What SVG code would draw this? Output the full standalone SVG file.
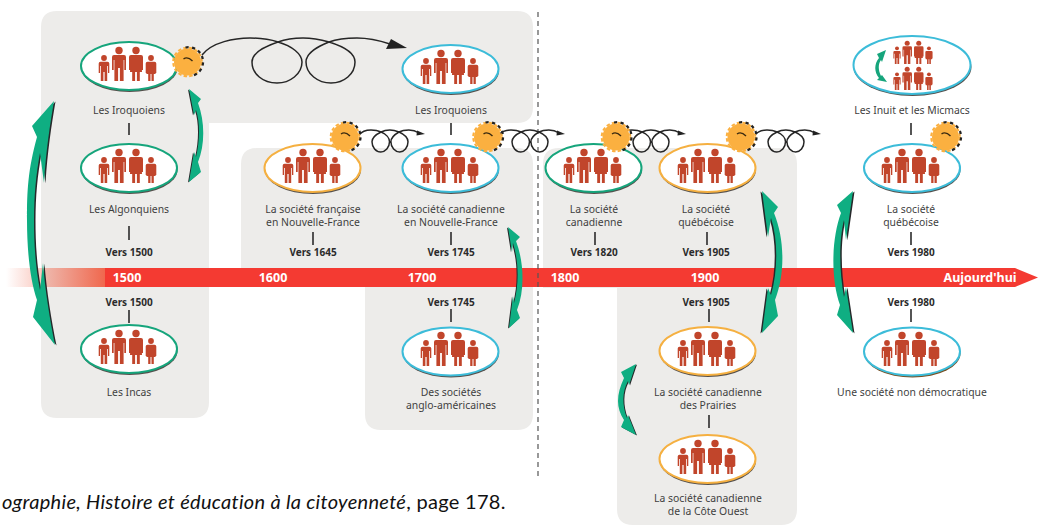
<svg xmlns="http://www.w3.org/2000/svg" width="1038" height="525" viewBox="0 0 1038 525">
<style>
text{font-family:"Noto Sans","Open Sans","Liberation Sans",sans-serif;font-size:10.400px;fill:#3f3f3f;text-anchor:middle}
.b{font-weight:700;fill:#2b2b2b;font-size:10px}
.y{font-weight:700;fill:#fff;font-size:12.500px}
.tick{stroke:#2b2b2b;stroke-width:1.600}
.bg{fill:#edecea}
.sh{fill:#55504c}
.ov{fill:#fff;stroke-width:2}
.g{stroke:#16a57c}.c{stroke:#3cbcd9}.o{stroke:#f5b041}
.p{fill:#c1452b}
.loop{fill:none;stroke:#262626;stroke-width:1.500}
.ar{fill:#0fae82}
.ars{fill:#26282a}
</style>
<defs>
<linearGradient id="fade" x1="0" x2="1" y1="0" y2="0">
<stop offset="0" stop-color="#f0664c" stop-opacity="0"/><stop offset="1" stop-color="#f0664c" stop-opacity="1"/>
</linearGradient>
<g id="man"><circle cx="0" cy="-30.500" r="3.700"/><path d="M-7-24Q-7-26-5-26H5Q7-26 7-24V-11H5.300V-21H4.600V0H.9V-13H-.9V0H-4.600V-21H-5.300V-11H-7Z"/></g>
<g id="woman"><circle cx="0" cy="-30.500" r="3.700"/><path d="M-7-24Q-7-26-5-26H5Q7-26 7-24V-11H5.300V-21L6-9H3.800V0H.9V-9H-.9V0H-3.800V-9H-6L-5.300-21V-11H-7Z"/></g>
<g id="boy"><circle cx="0" cy="-23" r="2.900"/><path d="M-5.300-17.500Q-5.300-19.300-3.500-19.300H3.500Q5.300-19.300 5.300-17.500V-8H4V-15H3.200V0H.6V-9H-.6V0H-3.200V-15H-4V-8H-5.300Z"/></g>
<g id="girl"><circle cx="0" cy="-23" r="2.900"/><path d="M-5.300-17.500Q-5.300-19.300-3.500-19.300H3.500Q5.300-19.300 5.300-17.500V-8H4V-15L4.600-7H2.800V0H.5V-7H-.5V0H-2.800V-7H-4.600L-4-15V-8H-5.300Z"/></g>
<g id="family" class="p"><use href="#boy" x="-25" y="15"/><use href="#man" x="-10" y="15"/><use href="#woman" x="7" y="15"/><use href="#girl" x="22" y="15"/></g>
<g id="gear"><circle r="13.500" fill="#fbb040"/><circle r="14.300" fill="none" stroke="#fbb040" stroke-width="2" stroke-dasharray="3.500 2.200"/><path d="M-2-14.500A14.500 14.500 0 0 1 4 14" fill="none" stroke="#222" stroke-width="2.200" stroke-dasharray="3.200 3.400"/><path d="M-4-3Q0-6 5-1" fill="none" stroke="#3a2a10" stroke-width="1.400"/></g>
<g id="sloop"><path class="loop" d="M14-2C17-6 21-7 26-7C30.500-7 34-6 36.100-5C41-3 44.500 1 44.500 4.800C44.500 10.600 40.300 15 35.800 15C30.900 15 27 10.600 27 4.800C27-.1 31.900-3 36.100-5C38.900-6.500 42-7 44.900-7C48-7 51.500-6 54-5C50.500-3 45.900-.1 45.900 4.800C45.900 10.600 50.100 15 54.700 15C59.200 15 63 10.600 63 4.800C63-.1 58.500-3 54-5C56.800-6.500 60.300-7 63.800-7C67.600-7 71-6 74-4"/><path d="M80-3L72-6.500L71.500-1.500Z" fill="#222"/></g>
</defs>

<g id="panels">
<path class="bg" d="M41 27Q41 11 57 11H517Q533 11 533 27V107Q533 123 517 123H209V402Q209 418 193 418H57Q41 418 41 402Z"/>
<path class="bg" d="M241 164Q241 148 257 148H517Q533 148 533 164V414Q533 430 517 430H381Q365 430 365 414V268H241Z"/>
<path class="bg" d="M543 164Q543 148 559 148H781Q797 148 797 164V509Q797 525 781 525H633Q617 525 617 509V288H543Z"/>
</g>

<g id="timeline">
<rect x="6" y="268" width="100" height="19" fill="url(#fade)"/>
<path d="M105 268H1015L1038 277.500L1015 287H105Z" fill="#f43a32"/>
<text class="y" x="127" y="282">1500</text>
<text class="y" x="273" y="282">1600</text>
<text class="y" x="422" y="282">1700</text>
<text class="y" x="565" y="282">1800</text>
<text class="y" x="705" y="282">1900</text>
<text class="y" x="980" y="282">Aujourd'hui</text>
</g>

<line id="divider" x1="538" y1="12" x2="538" y2="478" stroke="#555" stroke-width="1.200" stroke-dasharray="5 4"/>

<g id="connectors">
<path class="loop" d="M202 55C212 42 235 38 250 38C262 38 272 40 278 42C292 46 302 54 302 62C302 74 290 83 277 83C263 83 252 74 252 62C252 52 266 46 278 42C286 39 295 38 303 38C312 38 322 40 329 42C319 46 306 52 306 62C306 74 318 83 331 83C344 83 355 74 355 62C355 52 342 46 329 42C337 39 347 38 357 38C368 38 378 40 390 44"/>
<path d="M407 48L391 39L386 49Z" fill="#222"/>
<use href="#sloop" x="345" y="137"/>
<use href="#sloop" x="485" y="137"/>
<use href="#sloop" x="606" y="137"/>
<use href="#sloop" x="741" y="137"/>
<line class="tick" x1="129" y1="123" x2="129" y2="135"/>
<line class="tick" x1="129" y1="226" x2="129" y2="240"/>
<line class="tick" x1="129" y1="310" x2="129" y2="323"/>
<line class="tick" x1="451" y1="123" x2="451" y2="135"/>
<line class="tick" x1="313" y1="232" x2="313" y2="245"/>
<line class="tick" x1="451" y1="232" x2="451" y2="245"/>
<line class="tick" x1="451" y1="309" x2="451" y2="322"/>
<line class="tick" x1="595" y1="232" x2="595" y2="245"/>
<line class="tick" x1="707" y1="232" x2="707" y2="245"/>
<line class="tick" x1="709" y1="309" x2="709" y2="322"/>
<line class="tick" x1="709" y1="415" x2="709" y2="428"/>
<line class="tick" x1="911" y1="123" x2="911" y2="135"/>
<line class="tick" x1="911" y1="232" x2="911" y2="245"/>
<line class="tick" x1="911" y1="309" x2="911" y2="322"/>
</g>

<g id="arrows">
<g id="a1"><path class="ars" transform="translate(1.500,.5)" d="M54 101L32 126L37 137C28 170 27 190 27 220C27 250 30 280 37 300L33 317L55 345C50 320 45 290 43 263L40 290C35 265 34 240 34 220C34 195 36 175 40 153L44 183C46 150 50 125 54 101Z"/><path class="ar" d="M54 101L32 126L37 137C28 170 27 190 27 220C27 250 30 280 37 300L33 317L55 345C50 320 45 290 43 263L40 290C35 265 34 240 34 220C34 195 36 175 40 153L44 183C46 150 50 125 54 101Z"/></g>
<g id="a2"><path class="ars" transform="translate(-1,.5)" d="M189 89L201 99L198 103C205 122 205 145 198 162L201 172L189 182L194 152L196 157C200 140 200 122 196 110L194 115Z"/><path class="ar" d="M189 89L201 99L198 103C205 122 205 145 198 162L201 172L189 182L194 152L196 157C200 140 200 122 196 110L194 115Z"/></g>
<g id="a3"><path class="ars" transform="translate(-1,.5)" d="M508 227L520 237L516 241C524 262 525 290 517 310L520 318L509 328L513 296L514 303C519 285 519 262 513 243L512 252Z"/><path class="ar" d="M508 227L520 237L516 241C524 262 525 290 517 310L520 318L509 328L513 296L514 303C519 285 519 262 513 243L512 252Z"/></g>
<g id="a4"><path class="ars" transform="translate(-1.500,.5)" d="M762 191L778 207L774 213C785 240 785 275 775 300L778 316L762 333L768 288L771 295C778 270 778 240 771 218L768 237Z"/><path class="ar" d="M762 191L778 207L774 213C785 240 785 275 775 300L778 316L762 333L768 288L771 295C778 270 778 240 771 218L768 237Z"/></g>
<g id="a5"><path class="ars" transform="translate(1.500,.5)" d="M853 191L837 205L841 213C831 240 831 280 840 305L837 315L853 333L846 287L844 297C839 270 839 240 844 220L846 240Z"/><path class="ar" d="M853 191L837 205L841 213C831 240 831 280 840 305L837 315L853 333L846 287L844 297C839 270 839 240 844 220L846 240Z"/></g>
<g id="a6"><path class="ars" transform="translate(1,.4)" d="M636 364L621 372L624 378C616 395 616 408 624 420L621 427L636 435L628 415L627 418C622 405 622 392 628 381L629 385Z"/><path class="ar" d="M636 364L621 372L624 378C616 395 616 408 624 420L621 427L636 435L628 415L627 418C622 405 622 392 628 381L629 385Z"/></g>
</g>

<g id="n-iroquoiens-1"><ellipse class="sh" cx="129.500" cy="68" rx="48" ry="24"/><ellipse class="ov g" cx="129" cy="66" rx="48" ry="24"/><use href="#family" x="129" y="66"/><text x="129" y="114">Les Iroquoiens</text></g>
<g id="n-algonquiens"><ellipse class="sh" cx="129.500" cy="170" rx="48" ry="24"/><ellipse class="ov g" cx="129" cy="168" rx="48" ry="24"/><use href="#family" x="129" y="168"/><text x="129" y="213">Les Algonquiens</text><text class="b" x="129" y="256">Vers 1500</text></g>
<g id="n-incas"><text class="b" x="129" y="306">Vers 1500</text><ellipse class="sh" cx="129.500" cy="351" rx="48" ry="24"/><ellipse class="ov g" cx="129" cy="349" rx="48" ry="24"/><use href="#family" x="129" y="349"/><text x="129" y="396">Les Incas</text></g>
<g id="n-iroquoiens-2"><ellipse class="sh" cx="451" cy="71" rx="48" ry="24"/><ellipse class="ov c" cx="450.500" cy="69" rx="48" ry="24"/><use href="#family" x="451" y="69"/><text x="451" y="114">Les Iroquoiens</text></g>
<g id="n-francaise"><ellipse class="sh" cx="313" cy="170" rx="48" ry="24"/><ellipse class="ov o" cx="312.500" cy="168" rx="48" ry="24"/><use href="#family" x="313" y="168"/><text x="313" y="213">La société française</text><text x="313" y="226">en Nouvelle-France</text><text class="b" x="313" y="256">Vers 1645</text></g>
<g id="n-canadienne-nf"><ellipse class="sh" cx="451" cy="170" rx="48" ry="24"/><ellipse class="ov c" cx="450.500" cy="168" rx="48" ry="24"/><use href="#family" x="451" y="168"/><text x="451" y="213">La société canadienne</text><text x="451" y="226">en Nouvelle-France</text><text class="b" x="451" y="256">Vers 1745</text></g>
<g id="n-anglo"><text class="b" x="451" y="306">Vers 1745</text><ellipse class="sh" cx="451" cy="353.500" rx="48" ry="24"/><ellipse class="ov c" cx="450.500" cy="351.500" rx="48" ry="24"/><use href="#family" x="451" y="351"/><text x="451" y="396">Des sociétés</text><text x="451" y="409">anglo-américaines</text></g>
<g id="n-canadienne"><ellipse class="sh" cx="594" cy="170" rx="48" ry="24"/><ellipse class="ov g" cx="593.500" cy="168" rx="48" ry="24"/><use href="#family" x="594" y="168"/><text x="594" y="213">La société</text><text x="594" y="226">canadienne</text><text class="b" x="594" y="256">Vers 1820</text></g>
<g id="n-quebecoise"><ellipse class="sh" cx="708" cy="170" rx="48" ry="24"/><ellipse class="ov o" cx="707.500" cy="168" rx="48" ry="24"/><use href="#family" x="708" y="168"/><text x="706" y="213">La société</text><text x="706" y="226">québécoise</text><text class="b" x="706" y="256">Vers 1905</text></g>
<g id="n-prairies"><text class="b" x="706" y="306">Vers 1905</text><ellipse class="sh" cx="708" cy="353" rx="48" ry="24"/><ellipse class="ov o" cx="707.500" cy="351" rx="48" ry="24"/><use href="#family" x="708" y="351"/><text x="708" y="396">La société canadienne</text><text x="708" y="409">des Prairies</text></g>
<g id="n-cote-ouest"><ellipse class="sh" cx="708" cy="461" rx="48" ry="24"/><ellipse class="ov o" cx="707.500" cy="459" rx="48" ry="24"/><use href="#family" x="708" y="459"/><text x="708" y="502">La société canadienne</text><text x="708" y="515">de la Côte Ouest</text></g>
<g id="n-inuit"><ellipse class="sh" cx="912.500" cy="67" rx="59" ry="29"/><ellipse class="ov c" cx="912" cy="65" rx="58.500" ry="29"/><use href="#family" transform="translate(914,53.800) scale(.68)"/><use href="#family" transform="translate(914,79.800) scale(.68)"/><path id="a7" fill="#16a57c" d="M886 50L877 54L879 58C874 64 874 72 879 78L877 80L887 82L882 75L881 76C878 70 878 64 881 60L882 62Z"/><text x="912" y="114">Les Inuit et les Micmacs</text></g>
<g id="n-quebecoise-1980"><ellipse class="sh" cx="912.500" cy="170" rx="48" ry="24"/><ellipse class="ov c" cx="912" cy="168" rx="48" ry="24"/><use href="#family" x="912" y="168"/><text x="911" y="213">La société</text><text x="911" y="226">québécoise</text><text class="b" x="911" y="256">Vers 1980</text></g>
<g id="n-non-democratique"><text class="b" x="911" y="306">Vers 1980</text><ellipse cx="912.500" cy="353.500" rx="48" ry="24" fill="#7a4f22"/><ellipse class="ov c" cx="912" cy="351.500" rx="48" ry="24"/><use href="#family" x="912" y="351"/><text x="912" y="396">Une société non démocratique</text></g>

<g id="gears">
<use href="#gear" x="187.500" y="62"/>
<use href="#gear" x="345" y="137"/>
<use href="#gear" x="487.500" y="137"/>
<use href="#gear" x="616" y="137"/>
<use href="#gear" x="741" y="137"/>
<use href="#gear" x="945.500" y="137"/>
</g>

<text id="source" x="2" y="509" style="font-family:Lato,'Open Sans',sans-serif;font-size:20px;letter-spacing:.3px;fill:#111;text-anchor:start"><tspan font-style="italic">ographie, Histoire et éducation à la citoyenneté</tspan>, page 178.</text>
</svg>
